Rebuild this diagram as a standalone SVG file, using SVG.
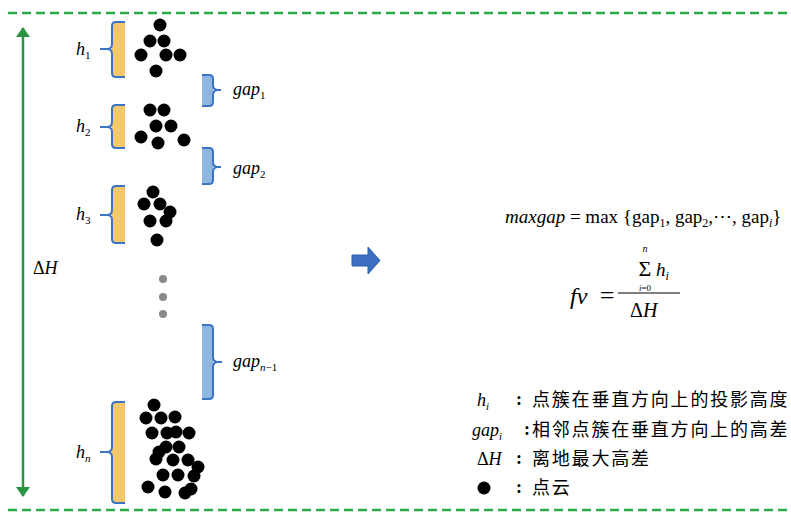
<svg xmlns="http://www.w3.org/2000/svg" width="791" height="512" viewBox="0 0 791 512">
<style>
.bg{fill:#ffffff}
.dash{stroke:#2BAA48;stroke-width:2.5;stroke-dasharray:9 5;fill:none}
.vline{stroke:#2A9444;stroke-width:2.5;fill:none}
.ybox{fill:#F5C86B}
.bbox{fill:#8EB6DE}
.brace{fill:none;stroke:#3B74C6;stroke-width:2;stroke-linejoin:round}
.dot{fill:#000000}
.gdot{fill:#8A8A8A}
.serif{font-family:"Liberation Serif","DejaVu Serif",serif;fill:#000}
.it{font-style:italic}
.lbl{font-size:18px}
.sub{font-size:11px}
.cjk{font-family:"Liberation Serif","Noto Sans CJK SC",sans-serif;font-size:18px;letter-spacing:1.8px;fill:#000}
.colon{font-family:"Liberation Serif",serif;font-weight:bold;font-size:18px;text-anchor:middle}
</style>
<defs>
<marker id="ah" viewBox="0 0 10 14" refX="9" refY="7" markerWidth="10" markerHeight="14" markerUnits="userSpaceOnUse" orient="auto-start-reverse">
<path d="M0,0 L10,7 L0,14 Z" fill="#2A9444"/>
</marker>
</defs>
<rect class="bg" x="0" y="0" width="791" height="512"/>

<g id="connectors">
<line class="dash" x1="8" y1="13" x2="791" y2="13"/>
<line class="dash" x1="8" y1="510" x2="791" y2="510"/>
<line class="vline" x1="23" y1="28" x2="23" y2="496" marker-start="url(#ah)" marker-end="url(#ah)"/>
<polygon points="352,255 368,255 368,247 380,260.5 368,274 368,266 352,266" fill="#3C6FBF" stroke="#2F5EA8" stroke-width="1"/>
</g>

<g id="deltaH-label">
<text class="serif lbl" x="33" y="274" font-size="19">Δ<tspan class="it">H</tspan></text>
</g>

<g id="cluster1">
<rect class="ybox" x="112" y="22" width="13" height="55"/>
<path class="brace" d="M125,22 H116 Q112,22 112,26 V44 Q112,49 107,49 H100 M107,49 Q112,49 112,54 V73 Q112,77 116,77 H125"/>
<text class="serif it lbl" x="76" y="55">h<tspan class="sub" font-style="normal" dy="4">1</tspan></text>
<circle class="dot" cx="160" cy="25" r="6.5"/>
<circle class="dot" cx="150" cy="41" r="6.5"/>
<circle class="dot" cx="164" cy="41" r="6.5"/>
<circle class="dot" cx="141" cy="55" r="6.5"/>
<circle class="dot" cx="166" cy="55" r="6.5"/>
<circle class="dot" cx="180" cy="55" r="6.5"/>
<circle class="dot" cx="156" cy="71" r="6.5"/>
</g>

<g id="gap1">
<rect class="bbox" x="202" y="75" width="11" height="31"/>
<path class="brace" d="M202,75 H209 Q213,75 213,79 V85 Q213,90 218,90 H221 M218,90 Q213,90 213,95 V102 Q213,106 209,106 H202"/>
<text class="serif it lbl" x="233" y="95" font-size="17">gap<tspan class="sub" font-style="normal" dy="4">1</tspan></text>
</g>

<g id="cluster2">
<rect class="ybox" x="112" y="105" width="13" height="43"/>
<path class="brace" d="M125,105 H116 Q112,105 112,109 V122 Q112,127 107,127 H100 M107,127 Q112,127 112,132 V144 Q112,148 116,148 H125"/>
<text class="serif it lbl" x="76" y="132">h<tspan class="sub" font-style="normal" dy="4">2</tspan></text>
<circle class="dot" cx="150" cy="110" r="6.5"/>
<circle class="dot" cx="164" cy="110" r="6.5"/>
<circle class="dot" cx="156" cy="126" r="6.5"/>
<circle class="dot" cx="171" cy="126" r="6.5"/>
<circle class="dot" cx="141" cy="137" r="6.5"/>
<circle class="dot" cx="158" cy="143" r="6.5"/>
<circle class="dot" cx="184" cy="140" r="6.5"/>
</g>

<g id="gap2">
<rect class="bbox" x="202" y="148" width="11" height="36"/>
<path class="brace" d="M202,148 H209 Q213,148 213,152 V162 Q213,167 218,167 H221 M218,167 Q213,167 213,172 V180 Q213,184 209,184 H202"/>
<text class="serif it lbl" x="233" y="174" font-size="17">gap<tspan class="sub" font-style="normal" dy="4">2</tspan></text>
</g>

<g id="cluster3">
<rect class="ybox" x="112" y="186" width="13" height="57"/>
<path class="brace" d="M125,186 H116 Q112,186 112,190 V210 Q112,215 107,215 H100 M107,215 Q112,215 112,220 V239 Q112,243 116,243 H125"/>
<text class="serif it lbl" x="76" y="220">h<tspan class="sub" font-style="normal" dy="4">3</tspan></text>
<circle class="dot" cx="153" cy="192" r="6.5"/>
<circle class="dot" cx="144" cy="204" r="6.5"/>
<circle class="dot" cx="160" cy="204" r="6.5"/>
<circle class="dot" cx="170" cy="212" r="6.5"/>
<circle class="dot" cx="150" cy="221" r="6.5"/>
<circle class="dot" cx="166" cy="221" r="6.5"/>
<circle class="dot" cx="157" cy="240" r="6.5"/>
</g>

<g id="ellipsis">
<circle class="gdot" cx="163" cy="279" r="4"/>
<circle class="gdot" cx="163" cy="297" r="4"/>
<circle class="gdot" cx="163" cy="314" r="4"/>
</g>

<g id="gapn1">
<rect class="bbox" x="202" y="325" width="11" height="74"/>
<path class="brace" d="M202,325 H209 Q213,325 213,329 V357 Q213,362 218,362 H222 M218,362 Q213,362 213,367 V395 Q213,399 209,399 H202"/>
<text class="serif it lbl" x="233" y="367" font-size="17">gap<tspan class="sub" dy="4">n</tspan><tspan class="sub" font-style="normal">−1</tspan></text>
</g>

<g id="clustern">
<rect class="ybox" x="112" y="402" width="13" height="101"/>
<path class="brace" d="M125,402 H116 Q112,402 112,406 V447 Q112,452 107,452 H100 M107,452 Q112,452 112,457 V499 Q112,503 116,503 H125"/>
<text class="serif it lbl" x="76" y="458">h<tspan class="sub" dy="4">n</tspan></text>
<circle class="dot" cx="154" cy="405" r="6.5"/>
<circle class="dot" cx="146" cy="418" r="6.5"/>
<circle class="dot" cx="161" cy="418" r="6.5"/>
<circle class="dot" cx="175" cy="417" r="6.5"/>
<circle class="dot" cx="152" cy="433" r="6.5"/>
<circle class="dot" cx="167" cy="433" r="6.5"/>
<circle class="dot" cx="176" cy="432" r="6.5"/>
<circle class="dot" cx="189" cy="433" r="6.5"/>
<circle class="dot" cx="166" cy="447" r="6.5"/>
<circle class="dot" cx="179" cy="447" r="6.5"/>
<circle class="dot" cx="159" cy="452" r="6.5"/>
<circle class="dot" cx="156" cy="459" r="6.5"/>
<circle class="dot" cx="173" cy="460" r="6.5"/>
<circle class="dot" cx="188" cy="460" r="6.5"/>
<circle class="dot" cx="198" cy="467" r="6.5"/>
<circle class="dot" cx="163" cy="475" r="6.5"/>
<circle class="dot" cx="178" cy="475" r="6.5"/>
<circle class="dot" cx="194" cy="476" r="6.5"/>
<circle class="dot" cx="148" cy="487" r="6.5"/>
<circle class="dot" cx="165" cy="492" r="6.5"/>
<circle class="dot" cx="185" cy="493" r="6.5"/>
<circle class="dot" cx="191" cy="489" r="6.5"/>
</g>

<g id="formula-maxgap">
<text class="serif" x="505" y="223" font-size="19"><tspan class="it">maxgap</tspan> = max {gap<tspan font-size="12" dy="4">1</tspan><tspan dy="-4">, gap</tspan><tspan font-size="12" dy="4">2</tspan><tspan dy="-4">,⋯, gap</tspan><tspan font-size="12" class="it" dy="4">i</tspan><tspan dy="-4">}</tspan></text>
</g>

<g id="formula-fv">
<text class="serif it" x="570" y="304" font-size="24">fv</text>
<text class="serif" x="607" y="304" font-size="26" text-anchor="middle">=</text>
<line x1="618" y1="293" x2="680" y2="293" stroke="#000" stroke-width="1.2"/>
<text class="serif it" x="645" y="252" font-size="10" text-anchor="middle">n</text>
<text class="serif" x="645" y="276" font-size="22" text-anchor="middle">Σ</text>
<text class="serif" x="645" y="291" font-size="9" text-anchor="middle"><tspan class="it">i</tspan>=0</text>
<text class="serif it" x="656" y="276" font-size="19">h<tspan font-size="12" dy="4">i</tspan></text>
<text class="serif" x="630" y="317" font-size="20">Δ<tspan class="it">H</tspan></text>
</g>

<g id="legend">
<text class="serif it" x="477" y="406" font-size="18">h<tspan class="sub" dy="4">i</tspan></text>
<text class="colon" x="519" y="405">:</text>
<text class="cjk" x="532" y="406">点簇在垂直方向上的投影高度</text>

<text class="serif it" x="472" y="436" font-size="18">gap<tspan class="sub" dy="4">i</tspan></text>
<text class="colon" x="527" y="435">:</text>
<text class="cjk" x="532" y="436">相邻点簇在垂直方向上的高差</text>

<text class="serif" x="477" y="465" font-size="18">Δ<tspan class="it">H</tspan></text>
<text class="colon" x="519" y="464">:</text>
<text class="cjk" x="532" y="465">离地最大高差</text>

<circle class="dot" cx="484" cy="488" r="6.5"/>
<text class="colon" x="519" y="493">:</text>
<text class="cjk" x="532" y="494">点云</text>
</g>
</svg>
